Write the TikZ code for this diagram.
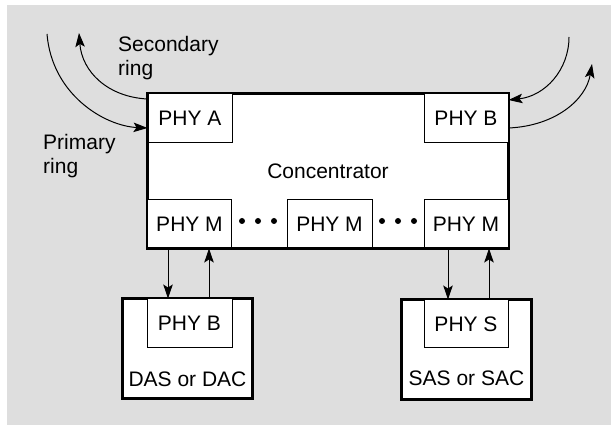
\documentclass[tikz,border=0pt]{standalone}
\usepackage{fontspec}
\setmainfont{Liberation Sans}
\usetikzlibrary{arrows.meta}
\definecolor{bggray}{RGB}{222,222,222}
\begin{document}
\begin{tikzpicture}[x=1pt,y=-1pt,
  lbl/.style={font=\fontsize{21}{24}\selectfont},
  outerbox/.style={draw,line width=2pt,fill=white,inner sep=0pt},
  innerbox/.style={draw,line width=1pt,fill=white,inner sep=0pt,minimum width=84pt,minimum height=49pt,lbl},
  arr/.style={line width=1pt,-{Stealth[length=14pt,width=9.5pt,inset=3pt]}},
  dot/.style={circle,fill=black,inner sep=0pt,minimum size=6pt}]
\useasboundingbox (0,0) rectangle (616,430);
\fill[bggray] (7,5) rectangle (611,425);
% concentrator
\node[outerbox,minimum width=360pt,minimum height=154pt,lbl] (conc) at (328,171) {Concentrator};
\node[innerbox] (phya) at (190,118.5) {PHY A};
\node[innerbox] (phyb) at (466,118.5) {PHY B};
\node[innerbox,minimum height=48pt] (m1) at (189.5,224) {PHY M};
\node[innerbox,minimum height=48pt,minimum width=85pt] (m2) at (329.5,224) {PHY M};
\node[innerbox,minimum height=48pt] (m3) at (466,224) {PHY M};
\draw[line width=2pt] (conc.north west) rectangle (conc.south east);
\node[dot] (d1) at (242,221) {};
\node[dot] (d2) at (258,221) {};
\node[dot] (d3) at (274,221) {};
\node[dot] (d4) at (382,221) {};
\node[dot] (d5) at (398,221) {};
\node[dot] (d6) at (414,221) {};
% stations
\node[outerbox,minimum width=129pt,minimum height=99pt] (das) at (187.5,348.5) {};
\node[innerbox,minimum width=85pt] (dasphy) at (189.5,323.5) {PHY B};
\draw[line width=2pt] (das.north west) rectangle (das.south east);
\node[lbl] (daslbl) at (187.5,379) {DAS or DAC};
\node[outerbox,minimum width=129pt,minimum height=99pt] (sas) at (466.5,349.5) {};
\node[innerbox,minimum height=48pt] (sasphy) at (466,324) {PHY S};
\draw[line width=2pt] (sas.north west) rectangle (sas.south east);
\node[lbl] (saslbl) at (466.5,378) {SAS or SAC};
% vertical links
\draw[arr] ([xshift=-21.5pt]m1.south) -- ([xshift=-21.5pt]dasphy.north);
\draw[arr] ([xshift=19.5pt]dasphy.north) -- ([xshift=19.5pt]m1.south);
\draw[arr] ([xshift=-18pt]m3.south) -- ([xshift=-18pt]sasphy.north);
\draw[arr] ([xshift=23pt]sasphy.north) -- ([xshift=23pt]m3.south);
% rings
\coordinate (lp0) at (47,34);
\coordinate (ls1) at (79,33);
\coordinate (rp0) at (569,37);
\coordinate (rs1) at (592,64);
\draw[arr] (lp0) .. controls (52,95) and (105,126) .. ([yshift=-9.5pt]phya.west);
\draw[arr] ([yshift=19.5pt]phya.west) .. controls (108,97) and (82,72) .. (ls1);
\draw[arr] (rp0) .. controls (569,70) and (545,96) .. ([yshift=18.5pt]phyb.east);
\draw[arr] ([yshift=-9.5pt]phyb.east) .. controls (555,126) and (586,100) .. (rs1);
\node[lbl,align=left,anchor=north west,inner sep=0pt] (sec) at (118,36) {Secondary\\ring};
\node[lbl,align=left,anchor=north west,inner sep=0pt] (pri) at (43,134) {Primary\\ring};
\end{tikzpicture}
\end{document}
